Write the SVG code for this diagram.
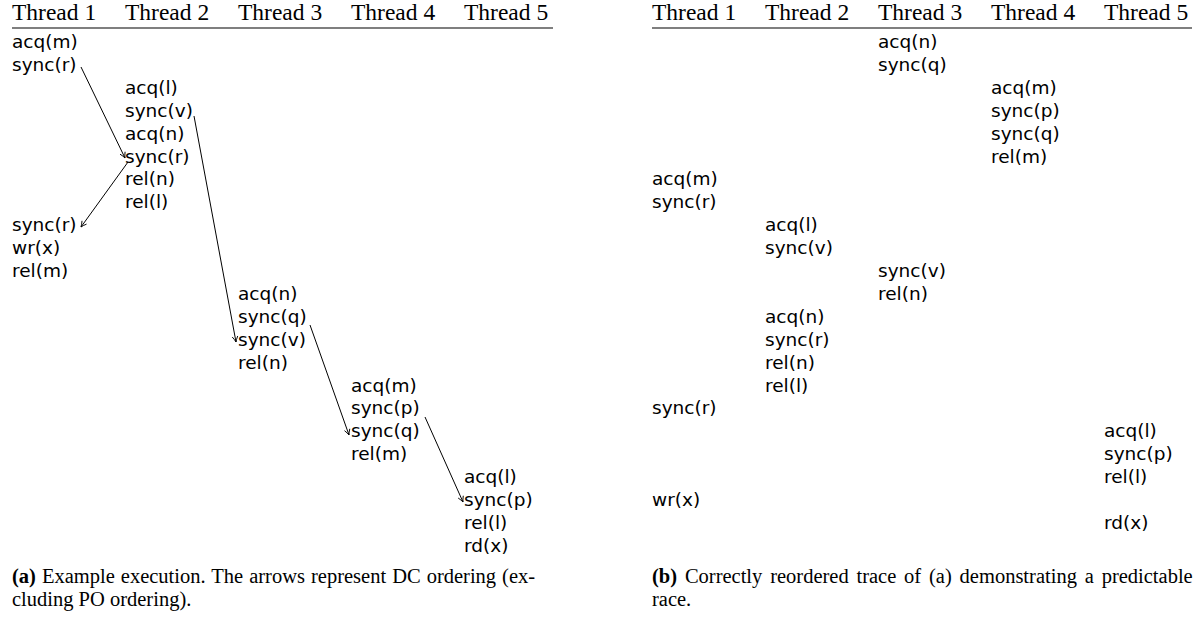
<svg xmlns="http://www.w3.org/2000/svg" width="1198" height="625" viewBox="0 0 1198 625">
  <style>
    .hd { font-family: "Liberation Serif", serif; font-size: 23.5px; fill: #000; }
    .ev { font-family: "DejaVu Sans", sans-serif; font-size: 18.5px; fill: #000; }
    .cap { font-family: "Liberation Serif", serif; font-size: 20.5px; fill: #000; }
    .cap .b { font-weight: bold; }
    .rule { stroke: #000; stroke-width: 1.2; }
    .dc { stroke: #000; stroke-width: 1; fill: none; marker-end: url(#barb); }
  </style>
  <defs>
    <marker id="barb" viewBox="0 0 10 10" refX="9" refY="5" markerWidth="8" markerHeight="8" markerUnits="userSpaceOnUse" orient="auto">
      <path d="M2,1.5 Q6,4 9,5 Q6,6 2,8.5" fill="none" stroke="#000" stroke-width="1.1"/>
    </marker>
  </defs>
  <rect width="1198" height="625" fill="#fff"/>

  <!-- (a) example execution -->
  <g id="table-a">
    <g id="a-header">
      <text class="hd" x="12" y="20">Thread 1</text>
      <text class="hd" x="125" y="20">Thread 2</text>
      <text class="hd" x="238" y="20">Thread 3</text>
      <text class="hd" x="351" y="20">Thread 4</text>
      <text class="hd" x="464" y="20">Thread 5</text>
      <line class="rule" x1="12" y1="28" x2="553" y2="28"/>
    </g>
    <g id="a-t1-first" class="ev">
      <text x="12" y="48">acq(m)</text>
      <text x="12" y="70.9">sync(r)</text>
    </g>
    <g id="a-t2" class="ev">
      <text x="125" y="93.8">acq(l)</text>
      <text x="125" y="116.7">sync(v)</text>
      <text x="125" y="139.6">acq(n)</text>
      <text x="125" y="162.5">sync(r)</text>
      <text x="125" y="185.4">rel(n)</text>
      <text x="125" y="208.3">rel(l)</text>
    </g>
    <g id="a-t1-second" class="ev">
      <text x="12" y="231.2">sync(r)</text>
      <text x="12" y="254.1">wr(x)</text>
      <text x="12" y="277">rel(m)</text>
    </g>
    <g id="a-t3" class="ev">
      <text x="238" y="299.9">acq(n)</text>
      <text x="238" y="322.8">sync(q)</text>
      <text x="238" y="345.7">sync(v)</text>
      <text x="238" y="368.6">rel(n)</text>
    </g>
    <g id="a-t4" class="ev">
      <text x="351" y="391.5">acq(m)</text>
      <text x="351" y="414.4">sync(p)</text>
      <text x="351" y="437.3">sync(q)</text>
      <text x="351" y="460.2">rel(m)</text>
    </g>
    <g id="a-t5" class="ev">
      <text x="464" y="483.1">acq(l)</text>
      <text x="464" y="506">sync(p)</text>
      <text x="464" y="528.9">rel(l)</text>
      <text x="464" y="551.8">rd(x)</text>
    </g>
    <!-- DC ordering edges -->
    <g id="a-edges">
      <line class="dc" x1="81" y1="67" x2="125" y2="158"/>
      <line class="dc" x1="128" y1="162" x2="81" y2="227"/>
      <line class="dc" x1="194" y1="116" x2="236" y2="342"/>
      <line class="dc" x1="310" y1="325" x2="349" y2="435"/>
      <line class="dc" x1="425" y1="417" x2="463" y2="502"/>
    </g>
    <text class="cap" x="12" y="583" word-spacing="0.9"><tspan class="b">(a)</tspan> Example execution. The arrows represent DC ordering (ex-</text>
    <text class="cap" x="12" y="606">cluding PO ordering).</text>
  </g>

  <!-- (b) reordered trace -->
  <g id="table-b">
    <g id="b-header">
      <text class="hd" x="652" y="20">Thread 1</text>
      <text class="hd" x="765" y="20">Thread 2</text>
      <text class="hd" x="878" y="20">Thread 3</text>
      <text class="hd" x="991" y="20">Thread 4</text>
      <text class="hd" x="1104" y="20">Thread 5</text>
      <line class="rule" x1="652" y1="28" x2="1192" y2="28"/>
    </g>
    <g id="b-t3-first" class="ev">
      <text x="878" y="48">acq(n)</text>
      <text x="878" y="70.9">sync(q)</text>
    </g>
    <g id="b-t4" class="ev">
      <text x="991" y="93.8">acq(m)</text>
      <text x="991" y="116.7">sync(p)</text>
      <text x="991" y="139.6">sync(q)</text>
      <text x="991" y="162.5">rel(m)</text>
    </g>
    <g id="b-t1-first" class="ev">
      <text x="652" y="185.4">acq(m)</text>
      <text x="652" y="208.3">sync(r)</text>
    </g>
    <g id="b-t2-first" class="ev">
      <text x="765" y="231.2">acq(l)</text>
      <text x="765" y="254.1">sync(v)</text>
    </g>
    <g id="b-t3-second" class="ev">
      <text x="878" y="277">sync(v)</text>
      <text x="878" y="299.9">rel(n)</text>
    </g>
    <g id="b-t2-second" class="ev">
      <text x="765" y="322.8">acq(n)</text>
      <text x="765" y="345.7">sync(r)</text>
      <text x="765" y="368.6">rel(n)</text>
      <text x="765" y="391.5">rel(l)</text>
    </g>
    <g id="b-t1-second" class="ev">
      <text x="652" y="414.4">sync(r)</text>
    </g>
    <g id="b-t5-first" class="ev">
      <text x="1104" y="437.3">acq(l)</text>
      <text x="1104" y="460.2">sync(p)</text>
      <text x="1104" y="483.1">rel(l)</text>
    </g>
    <g id="b-t1-third" class="ev">
      <text x="652" y="506">wr(x)</text>
    </g>
    <g id="b-t5-second" class="ev">
      <text x="1104" y="528.9">rd(x)</text>
    </g>
    <text class="cap" x="652" y="583" word-spacing="2.7"><tspan class="b">(b)</tspan> Correctly reordered trace of (a) demonstrating a predictable</text>
    <text class="cap" x="652" y="606">race.</text>
  </g>
</svg>
